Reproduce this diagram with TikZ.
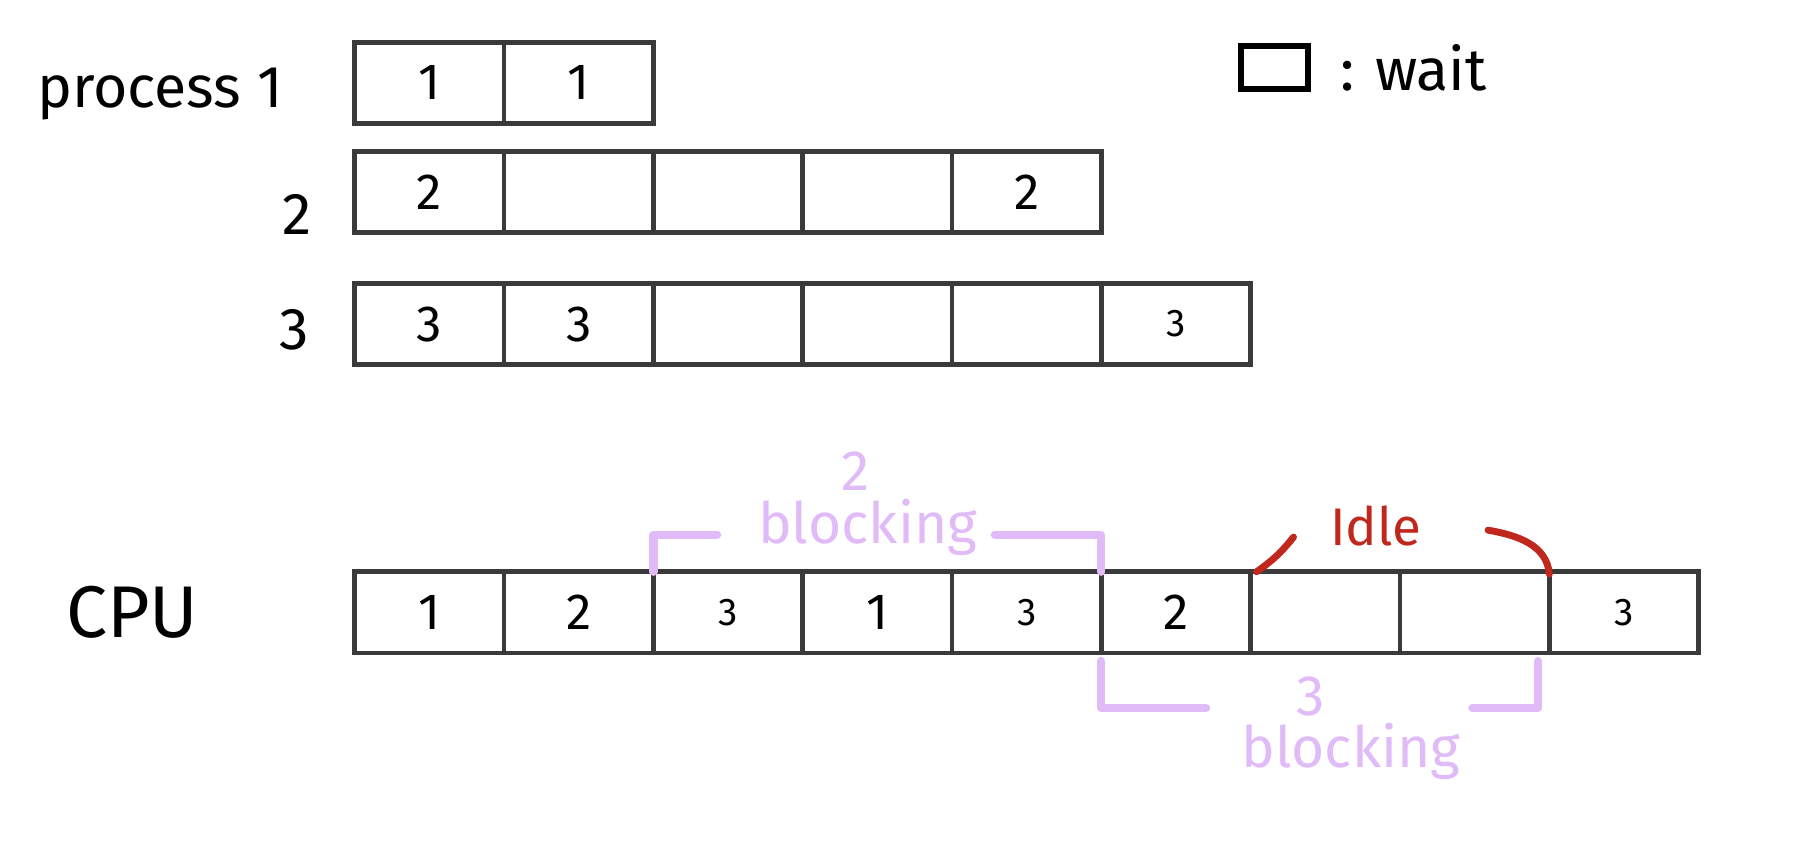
\documentclass[tikz,border=0pt]{standalone}
\usepackage{fontspec}
\setmainfont{Fira Sans}
\usetikzlibrary{positioning,calc}
\definecolor{SlotGray}{RGB}{58,58,58}
\definecolor{BlockLilac}{RGB}{224,187,248}
\definecolor{IdleRed}{RGB}{192,40,30}

\begin{document}
\begin{tikzpicture}[
  node distance=0pt, % slots sit edge to edge
  slot/.style={draw=SlotGray, line width=2.3pt, minimum width=2.58cm, minimum height=1.4cm,
    inner sep=0pt, outer sep=0pt, font=\fontsize{25}{27}\selectfont},
  thinslot/.style={slot, font=\fontsize{19}{20}\selectfont},
  tag/.style={font=\fontsize{29}{31}\selectfont, inner sep=0pt},
  blockcap/.style={text=BlockLilac, font=\fontsize{28}{30}\selectfont, inner sep=0pt},
  bracket/.style={draw=BlockLilac, line width=4pt, line cap=round, line join=round},
  idlearc/.style={draw=IdleRed, line width=3.4pt, line cap=round}
]
\useasboundingbox (0,0) rectangle (31.36,14.64);

% --- Process 1 ---
\node[slot] (p1a) at (7.42,13.21) {1};
\node[slot, right=of p1a] (p1b) {1};
\node[tag, left=1.24cm of p1a, yshift=-0.2cm] (proc1) {process 1};

% --- Process 2 ---
\node[slot, below=0.49cm of p1a] (p2a) {2};
\node[slot, right=of p2a] (p2b) {};
\node[slot, right=of p2b] (p2c) {};
\node[slot, right=of p2c] (p2d) {};
\node[slot, right=of p2d] (p2e) {2};
\node[tag, left=0.74cm of p2a, yshift=-0.38cm] (proc2) {2};

% --- Process 3 ---
\node[slot, below=0.88cm of p2a] (p3a) {3};
\node[slot, right=of p3a] (p3b) {3};
\node[slot, right=of p3b] (p3c) {};
\node[slot, right=of p3c] (p3d) {};
\node[slot, right=of p3d] (p3e) {};
\node[thinslot, right=of p3e] (p3f) {3};
\node[tag, left=0.78cm of p3a, yshift=-0.1cm] (proc3) {3};

% --- Legend ---
\node[draw=black, line width=2.8pt, minimum width=1.16cm, minimum height=0.74cm,
  inner sep=0pt] (waitbox) at (22.02,13.47) {};
\node[tag, right=0.5cm of waitbox] (waittext) {: wait};

% --- CPU timeline ---
\node[slot, below=3.58cm of p3a] (c1) {1};
\node[slot, right=of c1] (c2) {2};
\node[thinslot, right=of c2] (c3) {3};
\node[slot, right=of c3] (c4) {1};
\node[thinslot, right=of c4] (c5) {3};
\node[slot, right=of c5] (c6) {2};
\node[slot, right=of c6] (c7) {};
\node[slot, right=of c7] (c8) {};
\node[thinslot, right=of c8] (c9) {3};
\node[tag, font=\fontsize{36}{38}\selectfont, left=2.7cm of c1] (cpu) {CPU};

% --- Process 2 blocking (above) ---
\node[blockcap] (blk2) at ($(c3.north west)!0.5!(c5.north east)+(-0.17,0.76)$) {blocking};
\node[blockcap, above=0.14cm of blk2, xshift=-0.2cm] (two) {2};
\draw[bracket] (c3.north west) |- ([xshift=-0.7cm,yshift=-0.12cm]blk2.west);
\draw[bracket] ([xshift=0.3cm,yshift=-0.12cm]blk2.east) -| (c5.north east);

% --- Idle ---
\node[text=IdleRed, font=\fontsize{26}{28}\selectfont, inner sep=0pt] (idle)
  at ($(c7.north west)!0.5!(c8.north east)+(-0.42,0.8)$) {Idle};
\coordinate (idleL) at ([xshift=0.74cm,yshift=0.6cm]c7.north west);
\coordinate (idleR) at ([xshift=-1.06cm,yshift=0.72cm]c8.north east);
\draw[idlearc] ([xshift=0.1cm]c7.north west) to[bend right=8] (idleL);
\draw[idlearc] (idleR) to[out=-10,in=95] ([yshift=-0.04cm]c8.north east);

% --- Process 3 blocking (below) ---
\node[blockcap] (blk3) at ($(c6.south west)!0.5!(c8.south east)+(0.44,-1.7)$) {blocking};
\node[blockcap, above=0.1cm of blk3, xshift=-0.7cm] (three) {3};
\draw[bracket] ([yshift=-0.14cm]c6.south west) |- ([xshift=-1.8cm,yshift=-0.2cm]three.center);
\draw[bracket] ([xshift=2.8cm,yshift=-0.2cm]three.center) -| ([xshift=-0.2cm,yshift=-0.14cm]c8.south east);

\end{tikzpicture}
\end{document}
